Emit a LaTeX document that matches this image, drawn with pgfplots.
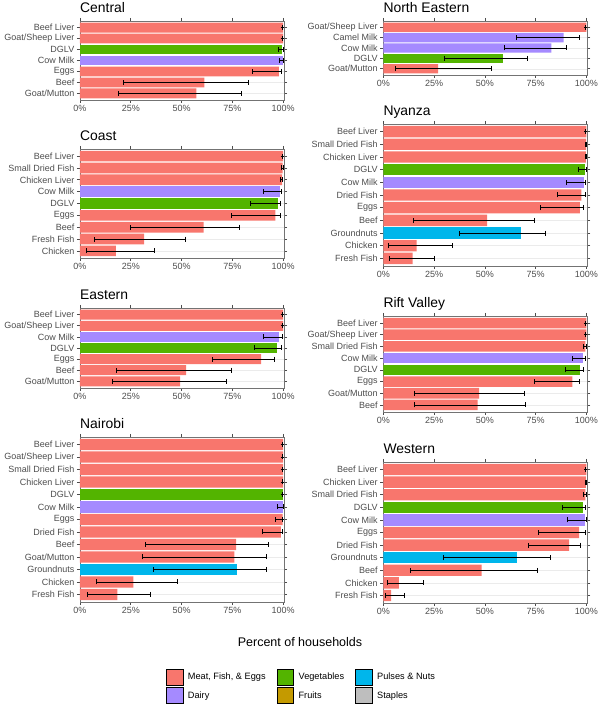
\documentclass[border=0pt]{standalone}
\usepackage{fontspec}
\setmainfont{Liberation Sans}
\usepackage{pgfplots}
\usepackage{pgfplotstable}
\pgfplotsset{compat=1.18}
\definecolor{meat}{HTML}{F8766D}
\definecolor{veg}{HTML}{53B400}
\definecolor{pulses}{HTML}{00B6EB}
\definecolor{dairy}{HTML}{A58AFF}
\definecolor{fruits}{HTML}{C49A00}
\definecolor{staples}{HTML}{BEBEBE}
\definecolor{grid92}{HTML}{EBEBEB}
\definecolor{grey30}{HTML}{4D4D4D}

% columns: y = row from top, v = percent, lo/hi = interval, g = group (1 meat, 2 veg, 3 dairy, 4 pulses)
\pgfplotstableread{
y v lo hi g
1 100 99.6 100 1
2 100 99.6 100 1
3 99.5 97.7 100 2
4 99.8 98.2 100 3
5 97.9 84.9 99.0 1
6 61.2 21.5 82.8 1
7 57.3 18.9 79.5 1
}\central
\pgfplotstableread{
y v lo hi g
1 100 99.6 100 1
2 99.7 98.9 100 1
3 99.5 98.5 99.8 1
4 98.5 90.0 99.3 3
5 97.4 83.6 98.5 2
6 96.1 74.7 98.4 1
7 60.8 24.8 78.3 1
8 31.5 7.2 51.6 1
9 17.6 3.1 36.8 1
}\coast
\pgfplotstableread{
y v lo hi g
1 100 99.6 100 1
2 100 99.6 100 1
3 98.0 90.3 99.5 3
4 96.9 85.9 98.9 2
5 89.2 65.0 95.4 1
6 52.2 18.1 74.4 1
7 49.3 16.1 72.1 1
}\eastern
\pgfplotstableread{
y v lo hi g
1 100 99.6 100 1
2 100 99.6 100 1
3 100 99.6 100 1
4 100 99.6 100 1
5 100 99.6 100 2
6 99.8 97.2 100 3
7 99.7 96.2 99.8 1
8 98.9 89.5 99.7 1
9 76.8 32.2 92.8 1
10 76.0 30.7 91.6 1
11 77.5 36.1 91.5 4
12 26.3 8.2 47.9 1
13 18.4 3.6 34.5 1
}\nairobi
\pgfplotstableread{
y v lo hi g
1 100 99.6 100 1
2 88.7 65.6 96.4 3
3 82.7 59.5 90.2 3
4 59.0 30.2 70.7 2
5 27.0 5.9 53.0 1
}\northeastern
\pgfplotstableread{
y v lo hi g
1 100 99.6 100 1
2 99.8 99.4 100 1
3 99.7 99.3 100 1
4 99.5 96.1 99.8 2
5 98.7 90.2 99.3 3
6 97.5 85.6 99.3 1
7 96.7 77.4 98.5 1
8 51.1 14.9 74.4 1
9 67.7 37.5 79.7 4
10 16.4 2.5 33.9 1
11 14.4 3.1 25.1 1
}\nyanza
\pgfplotstableread{
y v lo hi g
1 100 99.6 100 1
2 100 99.6 100 1
3 99.5 98.5 99.8 1
4 98.5 93.0 99.3 3
5 96.7 89.7 98.4 2
6 93.1 74.3 96.4 1
7 47.2 15.4 69.3 1
8 46.4 15.1 69.7 1
}\riftvalley
\pgfplotstableread{
y v lo hi g
1 100 99.6 100 1
2 99.7 99.3 100 1
3 99.5 98.2 99.9 1
4 98.5 88.2 99.3 2
5 99.5 90.8 99.9 3
6 96.4 76.4 99.2 1
7 91.5 71.5 97.0 1
8 65.6 29.5 82.3 4
9 48.4 13.1 75.6 1
10 7.7 1.8 19.7 1
11 3.9 0.8 10.2 1
}\western

\pgfplotsset{
  panel/.style={
    scale only axis, width=204pt, xmin=0, xmax=100.4, y dir=reverse,
    anchor=north west,
    xtick={0,25,50,75,100}, xticklabels={0\%,25\%,50\%,75\%,100\%},
    ymajorgrids, grid style={color=grid92, line width=0.5pt},
    axis line style={black!55, line width=0.6pt},
    tick align=outside, major tick length=3pt,
    tick style={black!70, line width=0.6pt},
    tick label style={font=\fontsize{9}{10}\selectfont, text=grey30},
    xticklabel style={inner sep=0pt, yshift=-2.5pt},
    yticklabel style={inner sep=0pt, xshift=-2.5pt},
    title style={at={(0,1)}, anchor=base west, inner sep=0pt, yshift=2pt, font=\fontsize{13.9}{15}\selectfont},
  },
  mybar/.style={xbar, bar width=0.9, bar shift=0pt, draw=none, forget plot},
  grp/.style={restrict expr to domain={\thisrow{g}}{#1:#1}},
  errs/.style={draw=none, mark=none, forget plot,
    error bars/.cd, x dir=both, x explicit, error mark=|,
    error bar style={draw=black, solid, line width=0.6pt},
    error mark options={draw=black, solid, mark size=2.5pt, line width=0.6pt}},
}
\newcommand{\bars}[2]{\addplot[mybar, fill=#2, grp=#1] table[x=v, y=y]}
\newcommand{\errbars}{\addplot[errs] table[x=v, y=y, x error plus expr=\thisrow{hi}-\thisrow{v}, x error minus expr=\thisrow{v}-\thisrow{lo}]}

\begin{document}
\begin{tikzpicture}
\useasboundingbox (0pt,0pt) rectangle (600pt,707pt);

% ---------------- Central
\begin{axis}[panel, at={(80pt,686pt)}, height=79pt, ymin=0.4, ymax=7.6, ytick={1,...,7},
  yticklabels={Beef Liver,Goat/Sheep Liver,DGLV,Cow Milk,Eggs,Beef,Goat/Mutton}, title={Central}]
\bars{1}{meat}{\central};
\bars{2}{veg}{\central};
\bars{3}{dairy}{\central};
\errbars{\central};
\end{axis}

% ---------------- Coast
\begin{axis}[panel, at={(80pt,558pt)}, height=109pt, ymin=0.4, ymax=9.6, ytick={1,...,9},
  yticklabels={Beef Liver,Small Dried Fish,Chicken Liver,Cow Milk,DGLV,Eggs,Beef,Fresh Fish,Chicken}, title={Coast}]
\bars{1}{meat}{\coast};
\bars{2}{veg}{\coast};
\bars{3}{dairy}{\coast};
\errbars{\coast};
\end{axis}

% ---------------- Eastern
\begin{axis}[panel, at={(80pt,399pt)}, height=80pt, ymin=0.4, ymax=7.6, ytick={1,...,7},
  yticklabels={Beef Liver,Goat/Sheep Liver,Cow Milk,DGLV,Eggs,Beef,Goat/Mutton}, title={Eastern}]
\bars{1}{meat}{\eastern};
\bars{2}{veg}{\eastern};
\bars{3}{dairy}{\eastern};
\errbars{\eastern};
\end{axis}

% ---------------- Nairobi
\begin{axis}[panel, at={(80pt,270pt)}, height=165pt, ymin=0.4, ymax=13.6, ytick={1,...,13},
  yticklabels={Beef Liver,Goat/Sheep Liver,Small Dried Fish,Chicken Liver,DGLV,Cow Milk,Eggs,Dried Fish,Beef,Goat/Mutton,Groundnuts,Chicken,Fresh Fish}, title={Nairobi}]
\bars{1}{meat}{\nairobi};
\bars{2}{veg}{\nairobi};
\bars{3}{dairy}{\nairobi};
\bars{4}{pulses}{\nairobi};
\errbars{\nairobi};
\end{axis}

% ---------------- North Eastern
\begin{axis}[panel, at={(383.3pt,686pt)}, height=54pt, ymin=0.4, ymax=5.6, ytick={1,...,5},
  yticklabels={Goat/Sheep Liver,Camel Milk,Cow Milk,DGLV,Goat/Mutton}, title={North Eastern}]
\bars{1}{meat}{\northeastern};
\bars{2}{veg}{\northeastern};
\bars{3}{dairy}{\northeastern};
\errbars{\northeastern};
\end{axis}

% ---------------- Nyanza
\begin{axis}[panel, at={(383.3pt,583pt)}, height=142pt, ymin=0.4, ymax=11.6, ytick={1,...,11},
  yticklabels={Beef Liver,Small Dried Fish,Chicken Liver,DGLV,Cow Milk,Dried Fish,Eggs,Beef,Groundnuts,Chicken,Fresh Fish}, title={Nyanza}]
\bars{1}{meat}{\nyanza};
\bars{2}{veg}{\nyanza};
\bars{3}{dairy}{\nyanza};
\bars{4}{pulses}{\nyanza};
\errbars{\nyanza};
\end{axis}

% ---------------- Rift Valley
\begin{axis}[panel, at={(383.3pt,391pt)}, height=96pt, ymin=0.4, ymax=8.6, ytick={1,...,8},
  yticklabels={Beef Liver,Goat/Sheep Liver,Small Dried Fish,Cow Milk,DGLV,Eggs,Goat/Mutton,Beef}, title={Rift Valley}]
\bars{1}{meat}{\riftvalley};
\bars{2}{veg}{\riftvalley};
\bars{3}{dairy}{\riftvalley};
\errbars{\riftvalley};
\end{axis}

% ---------------- Western
\begin{axis}[panel, at={(383.3pt,245pt)}, height=141pt, ymin=0.4, ymax=11.6, ytick={1,...,11},
  yticklabels={Beef Liver,Chicken Liver,Small Dried Fish,DGLV,Cow Milk,Eggs,Dried Fish,Groundnuts,Beef,Chicken,Fresh Fish}, title={Western}]
\bars{1}{meat}{\western};
\bars{2}{veg}{\western};
\bars{3}{dairy}{\western};
\bars{4}{pulses}{\western};
\errbars{\western};
\end{axis}

% ---------------- shared x label and legend
\node[font=\fontsize{12.5}{14}\selectfont, text=black] at (300pt,65pt) {Percent of households};

\begin{axis}[hide axis, scale only axis, width=600pt, height=707pt, at={(0pt,0pt)}, anchor=south west,
  xmin=0, xmax=1, ymin=0, ymax=1,
  legend columns=3, legend cell align=left,
  legend style={at={(0.27617,0.05375)}, anchor=north west, draw=none, fill=none, inner sep=0pt,
    font=\fontsize{9.2}{11}\selectfont, row sep=1.7pt,
    /tikz/every odd column/.style={column sep=3pt},
    /tikz/every even column/.style={column sep=9pt}},
  legend image code/.code={\draw[#1] (0pt,-8pt) rectangle (16.6pt,8pt);}]
\addlegendimage{fill=meat, draw=none}
\addlegendentry{Meat, Fish, \& Eggs}
\addlegendimage{fill=veg, draw=none}
\addlegendentry{Vegetables}
\addlegendimage{fill=pulses, draw=none}
\addlegendentry{Pulses \& Nuts}
\addlegendimage{fill=dairy, draw=none}
\addlegendentry{Dairy}
\addlegendimage{fill=fruits, draw=none}
\addlegendentry{Fruits}
\addlegendimage{fill=staples, draw=none}
\addlegendentry{Staples}
\end{axis}
\end{tikzpicture}
\end{document}
